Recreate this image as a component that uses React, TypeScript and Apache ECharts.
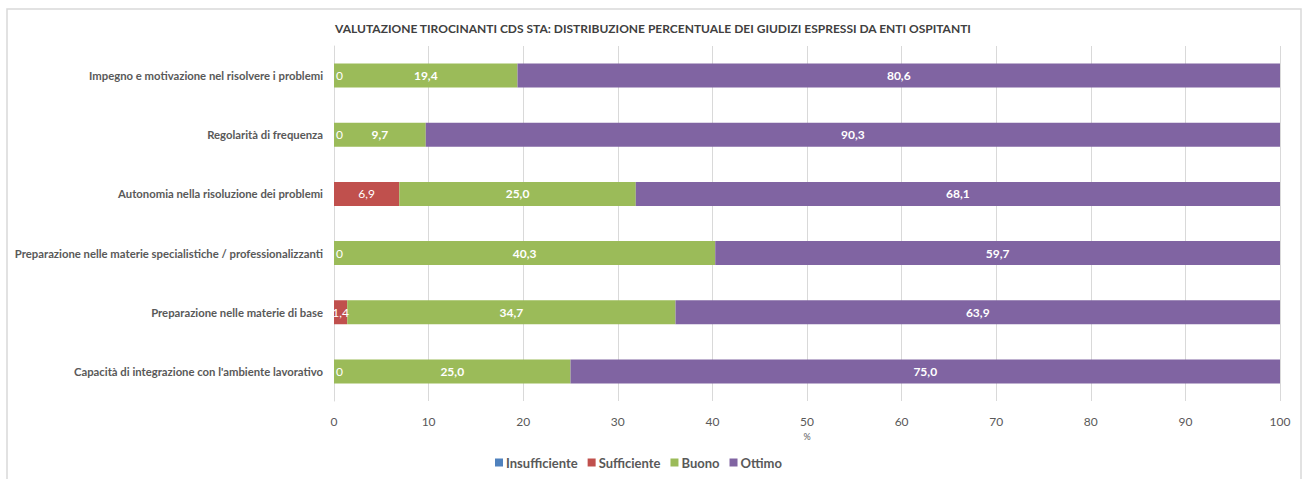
import React, { useEffect, useRef } from "react";
import * as echarts from "echarts";

const categories = [
  "Impegno e motivazione nel risolvere i problemi",
  "Regolarità di frequenza",
  "Autonomia nella risoluzione dei problemi",
  "Preparazione nelle materie specialistiche / professionalizzanti",
  "Preparazione nelle materie di base",
  "Capacità di integrazione con l'ambiente lavorativo",
];
const insufficiente = [0, 0, 0, 0, 0, 0];
const sufficiente = [0, 0, 6.9, 0, 1.4, 0];
const buono = [19.4, 9.7, 25.0, 40.3, 34.7, 25.0];
const ottimo = [80.6, 90.3, 68.1, 59.7, 63.9, 75.0];
const xTicks = [0, 10, 20, 30, 40, 50, 60, 70, 80, 90, 100];

const FONT = "Lato, 'Open Sans', sans-serif";

const fmt = (v: number) => (v === 0 ? "0" : v.toFixed(1).replace(".", ","));

export default function App() {
  const ref = useRef<HTMLDivElement>(null);
  useEffect(() => {
    if (!ref.current) return;
    const chart = echarts.init(ref.current, null, { renderer: "svg" });
    const labelStyle = {
      show: true,
      position: "inside",
      color: "#ffffff",
      fontWeight: "bold",
      fontSize: 12,
      fontFamily: FONT,
      formatter: (p: any) => fmt(p.value),
    };
    const suffData = sufficiente.map((v) =>
      v === 0
        ? { value: v, label: { position: "insideLeft", offset: [-3, 0] } }
        : { value: v }
    );
    chart.setOption({
      animation: false,
      backgroundColor: "#ffffff",
      title: {
        text: "VALUTAZIONE TIROCINANTI CDS STA: DISTRIBUZIONE PERCENTUALE DEI GIUDIZI ESPRESSI DA ENTI OSPITANTI",
        left: "center",
        top: 17,
        textStyle: { fontSize: 12, fontWeight: "bold", color: "#404040", fontFamily: FONT },
      },
      legend: {
        bottom: 5,
        left: 490,
        itemWidth: 8,
        itemHeight: 8,
        itemGap: 10,
        icon: "rect",
        textStyle: { fontSize: 13, fontWeight: "bold", color: "#595959", fontFamily: FONT, padding: [0, 0, 0, -2] },
        data: ["Insufficiente", "Sufficiente", "Buono", "Ottimo"],
      },
      graphic: [
        {
          type: "rect",
          shape: { x: 7, y: 9, width: 1294, height: 480 },
          style: { fill: "none", stroke: "#d9d9d9", lineWidth: 1.5 },
          silent: true,
        },
      ],
      grid: { left: 334, right: 26, top: 46, height: 355 },
      xAxis: {
        type: "value",
        min: 0,
        max: 100,
        interval: 10,
        name: "%",
        nameLocation: "middle",
        nameGap: 30,
        nameTextStyle: { fontSize: 9, color: "#595959", fontFamily: FONT },
        axisLine: { show: false },
        axisTick: { show: false },
        axisLabel: {
          fontSize: 12,
          color: "#595959",
          fontFamily: FONT,
          margin: 14,
          formatter: (v: number) => (xTicks.includes(v) ? String(v) : ""),
        },
        splitLine: { show: true, lineStyle: { color: "#d9d9d9", width: 1 } },
      },
      yAxis: {
        type: "category",
        inverse: true,
        data: categories,
        axisLine: { show: true, lineStyle: { color: "#d9d9d9" } },
        axisTick: { show: false },
        axisLabel: {
          fontSize: 11.3,
          fontWeight: "bold",
          color: "#595959",
          fontFamily: FONT,
          margin: 11,
        },
      },
      series: [
        {
          name: "Insufficiente",
          type: "bar",
          stack: "tot",
          barWidth: 24,
          data: insufficiente,
          itemStyle: { color: "#4f81bd" },
        },
        {
          name: "Sufficiente",
          type: "bar",
          stack: "tot",
          barWidth: 24,
          data: suffData,
          itemStyle: { color: "#c0504d" },
          label: { ...labelStyle, fontWeight: "normal" },
        },
        {
          name: "Buono",
          type: "bar",
          stack: "tot",
          barWidth: 24,
          data: buono,
          itemStyle: { color: "#9bbb59" },
          label: labelStyle,
        },
        {
          name: "Ottimo",
          type: "bar",
          stack: "tot",
          barWidth: 24,
          data: ottimo,
          itemStyle: { color: "#8064a2" },
          label: labelStyle,
        },
      ],
    });
    return () => chart.dispose();
  }, []);
  return (
    <div
      ref={ref}
      style={{ position: "absolute", left: 0, top: 0, width: 1306, height: 479 }}
    />
  );
}
